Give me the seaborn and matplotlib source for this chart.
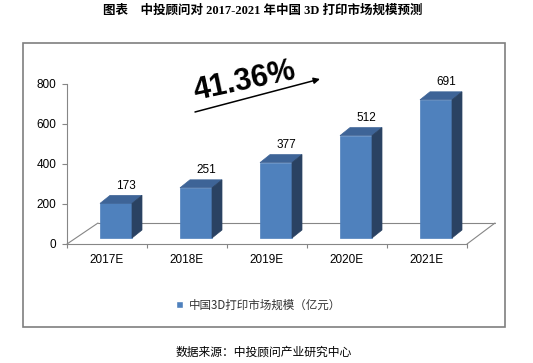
import matplotlib
matplotlib.use('Agg')
import matplotlib.pyplot as plt
import matplotlib.transforms as mtransforms
from matplotlib.patches import Polygon, Rectangle, Patch
from matplotlib.lines import Line2D
import seaborn as sns
import pandas as pd

# data
years = ['2017E', '2018E', '2019E', '2020E', '2021E']
values = [173, 251, 377, 512, 691]
y_ticks = [0, 200, 400, 600, 800]
title = '图表　中投顾问对 2017-2021 年中国 3D 打印市场规模预测'
legend_label = '中国3D打印市场规模（亿元）'
source = '数据来源：中投顾问产业研究中心'
growth = '41.36%'

FRONT = '#4F81BD'
TOP = '#3E6497'
SIDE = '#2A4262'
GRID = '#868686'

sns.set_style('white')
plt.rcParams['font.family'] = ['Liberation Sans', 'Noto Sans CJK SC']
plt.rcParams['text.color'] = 'black'

W, H = 533, 363
fig = plt.figure(figsize=(W / 100, H / 100), dpi=100)
ax = fig.add_axes([67 / W, (H - 244) / H, 400 / W, 160 / H])

df = pd.DataFrame({'year': years, 'value': values})
sns.barplot(data=df, x='year', y='value', color=FRONT, saturation=1,
            width=0.4, ax=ax, zorder=3, edgecolor=FRONT, linewidth=0.5)
ax.set_xlim(-0.5, 4.5)
ax.set_ylim(0, 800)
ax.set_xlabel('')
ax.set_ylabel('')

# fake 3D: shift bars back into the floor, add top and side faces
shift = mtransforms.ScaledTranslation(9 / 100, 6 / 100, fig.dpi_scale_trans)
trans = ax.transData + shift
ddx, ddy = 10 / 80, 8 * 5
for p in list(ax.patches):
    x0, w, h = p.get_x(), p.get_width(), p.get_height()
    p.set_transform(trans)
    p.set_clip_on(False)
    top = Polygon([(x0, h), (x0 + w, h), (x0 + w + ddx, h + ddy), (x0 + ddx, h + ddy)],
                  closed=True, facecolor=TOP, edgecolor=TOP, lw=0.5,
                  transform=trans, clip_on=False, zorder=3)
    side = Polygon([(x0 + w, 0), (x0 + w + ddx, ddy), (x0 + w + ddx, h + ddy), (x0 + w, h)],
                   closed=True, facecolor=SIDE, edgecolor=SIDE, lw=0.5,
                   transform=trans, clip_on=False, zorder=3)
    ax.add_patch(top)
    ax.add_patch(side)
    ax.annotate(str(int(round(h))), xy=(x0 + w / 2, h), xytext=(19, 23.5),
                textcoords='offset pixels', ha='center', va='center',
                fontsize=8.5, color='black')

# floor
bx, by = 31 / 400, 21 / 160
rx = (495 - 67) / 400
for xs, ys in [([0, bx], [0, by]), ([bx, rx], [by, by]), ([1, rx], [0, by])]:
    ax.add_line(Line2D(xs, ys, transform=ax.transAxes, color=GRID, lw=0.8,
                       clip_on=False, zorder=1))

sns.despine(ax=ax, top=True, right=True)
for s in ['left', 'bottom']:
    ax.spines[s].set_color(GRID)
    ax.spines[s].set_linewidth(0.8)
ax.set_yticks(y_ticks)
ax.tick_params(axis='y', direction='out', length=3.5, width=0.8, color=GRID,
               labelsize=8.5, labelcolor='black', pad=4, left=True)
ax.set_xticks(range(len(years)))
ax.set_xticks([i - 0.5 for i in range(len(years) + 1)], minor=True)
ax.tick_params(axis='x', which='major', length=0, labelsize=8.5,
               labelcolor='black', pad=7)
ax.tick_params(axis='x', which='minor', direction='out', length=3, width=0.8,
               color=GRID, bottom=True)

# growth annotation
fig.text(246 / W, 1 - 89 / H, growth, rotation=12, rotation_mode='anchor',
         ha='center', va='baseline', fontsize=22, fontweight='bold',
         family='Liberation Sans', color='black')
ax.annotate('', xy=(320 / W, 1 - 79 / H), xytext=(195 / W, 1 - 112 / H),
            xycoords='figure fraction', textcoords='figure fraction',
            arrowprops=dict(arrowstyle='-|>', color='black', lw=1.1,
                            mutation_scale=9, shrinkA=0, shrinkB=0))

fig.legend(handles=[Patch(facecolor=FRONT)], labels=[legend_label],
           loc='center left', bbox_to_anchor=(176 / W, 1 - 305 / H),
           frameon=False, handlelength=0.6, handleheight=0.6,
           handletextpad=0.5, borderpad=0, borderaxespad=0,
           labelcolor='#333333',
           prop={'family': ['Noto Sans CJK SC'], 'size': 8.3})

# frame and texts
fig.add_artist(Rectangle((23 / W, (H - 327) / H), 482 / W, 284 / H,
                         transform=fig.transFigure, fill=False,
                         edgecolor='#7f7f7f', lw=1.2))
fig.text(263 / W, 1 - 11 / H, title, ha='center', va='center', fontsize=9,
         fontweight='bold', family=['Liberation Serif', 'Noto Sans CJK SC'],
         color='black')
fig.text(264 / W, 1 - 352 / H, source, ha='center', va='center', fontsize=8.5,
         family=['Noto Sans CJK SC'], color='black')

fig.savefig('out.png', dpi=100)
